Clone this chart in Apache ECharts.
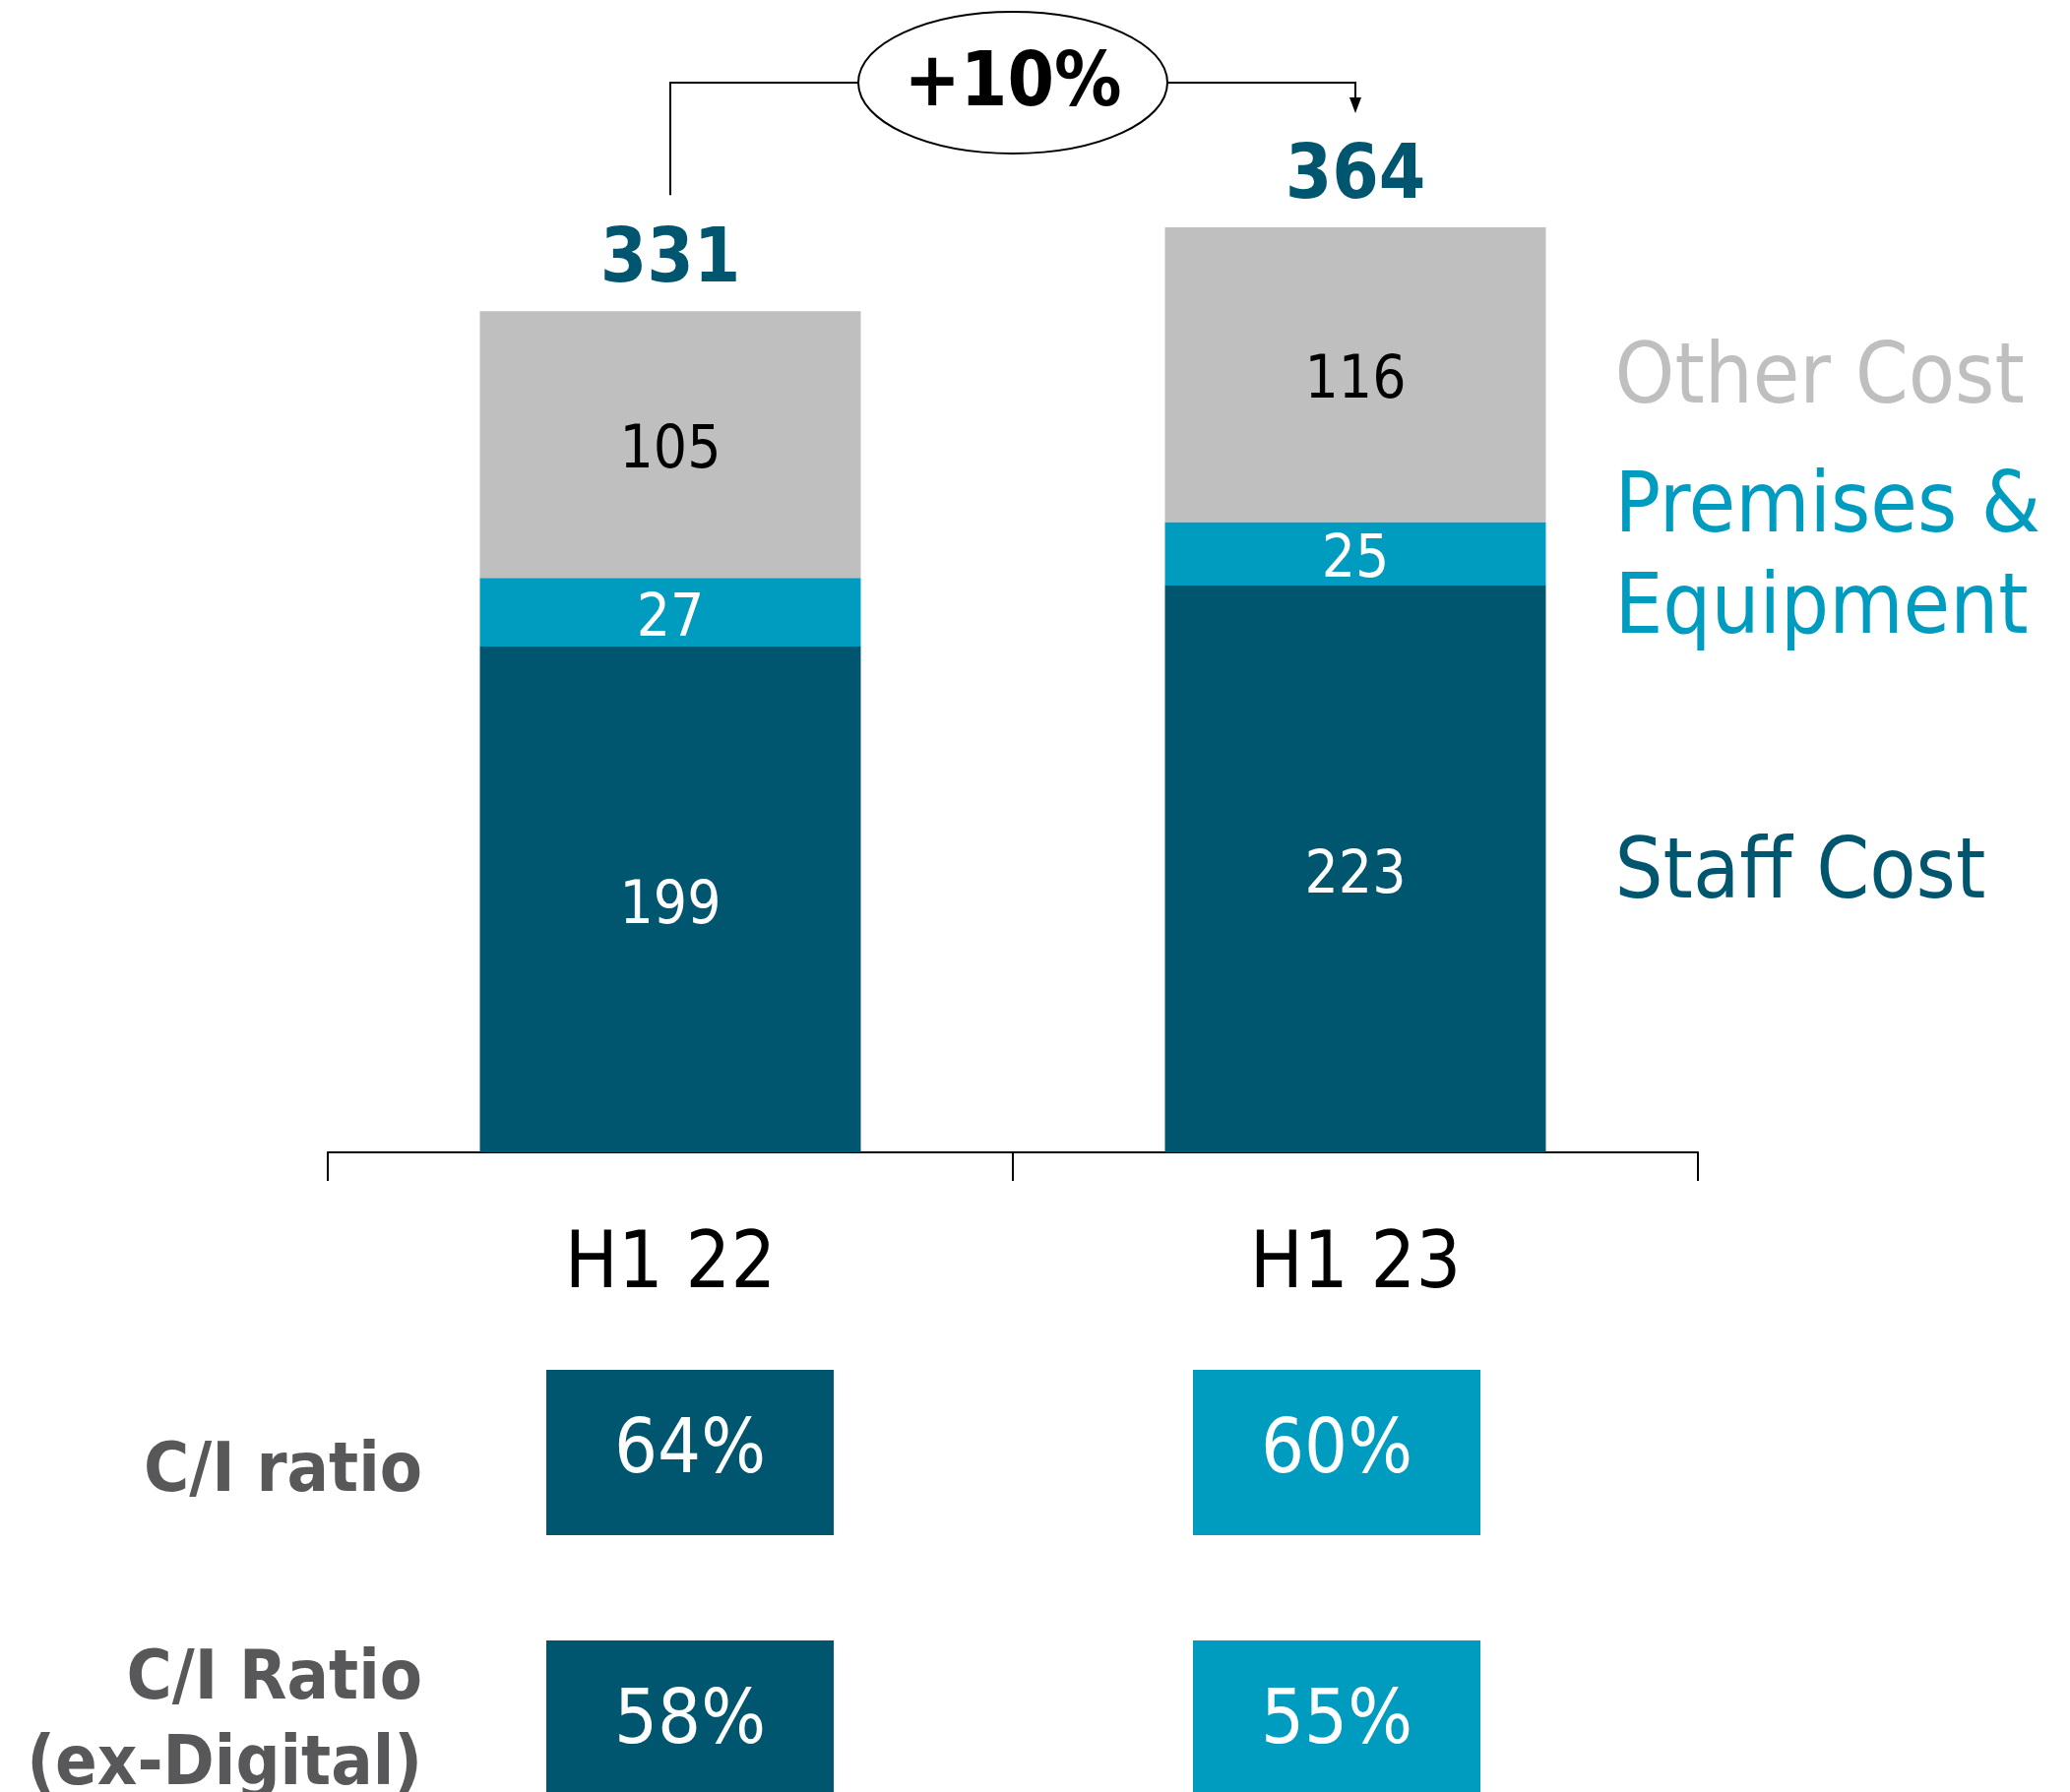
<!DOCTYPE html>
<html>
<head>
<meta charset="utf-8">
<script src="https://cdn.jsdelivr.net/npm/echarts@6/dist/echarts.min.js"></script>
<style>
  html, body { margin: 0; padding: 0; background: #fff; }
  #main { width: 2103px; height: 1821px; }
</style>
</head>
<body>
<div id="main"></div>
<script>
// data
const periods = ['H1 22', 'H1 23'];
const staffCost = [199, 223];
const premises = [27, 25];
const otherCost = [105, 116];
const totals = [331, 364];
const growthLabel = '+10%';
const ratioRows = ['C/I ratio', 'C/I Ratio\n(ex-Digital)'];
const ciRatio = [64, 60];
const ciRatioExDigital = [58, 55];

const FONT = '"DejaVu Sans Condensed", "DejaVu Sans", sans-serif';
const DARK = '#00566e';
const TEAL = '#009cc0';
const GREY = '#bfbfbf';

const chart = echarts.init(document.getElementById('main'));

const tableData = [];
[ciRatio, ciRatioExDigital].forEach(function (row, r) {
  row.forEach(function (v, c) { tableData.push([c, r, v]); });
});

const segLabel = function (color) {
  return { show: true, position: 'inside', offset: [0, 8], color: color, fontFamily: FONT, fontSize: 60 };
};

const option = {
  animation: false,
  backgroundColor: '#fff',
  grid: [
    { left: 333, right: 378, top: 138, bottom: 650, outerBoundsMode: 'none' },
    { left: 701, right: 745, top: 1476, bottom: 70, outerBoundsMode: 'none' }
  ],
  xAxis: [
    {
      type: 'category', data: periods, gridIndex: 0,
      axisLine: { lineStyle: { color: '#000', width: 2 } },
      axisTick: { show: true, length: 29, lineStyle: { color: '#000', width: 2 } },
      axisLabel: { color: '#000', fontFamily: FONT, fontSize: 80, margin: 76 }
    },
    {
      type: 'category', data: periods, gridIndex: 1, boundaryGap: false, show: false
    }
  ],
  yAxis: [
    { type: 'value', gridIndex: 0, min: 0, max: 400, show: false },
    {
      type: 'category', data: ratioRows, gridIndex: 1, inverse: true, boundaryGap: false,
      axisLine: { show: false }, axisTick: { show: false }, splitLine: { show: false },
      axisLabel: {
        margin: 272, color: '#58585a', fontFamily: FONT, fontWeight: 'bold', fontSize: 70,
        lineHeight: 87, align: 'right',
        formatter: function (v, i) { return i === 0 ? '{a|' + v + '}' : v; },
        rich: { a: { padding: [42, 0, 0, 0], color: '#58585a', fontFamily: FONT, fontWeight: 'bold', fontSize: 70 } }
      }
    }
  ],
  series: [
    { name: 'Staff Cost', type: 'bar', stack: 'cost', barWidth: '55.6%', data: staffCost,
      itemStyle: { color: DARK }, label: segLabel('#fff') },
    { name: 'Premises & Equipment', type: 'bar', stack: 'cost', data: premises,
      itemStyle: { color: TEAL }, label: segLabel('#fff') },
    { name: 'Other Cost', type: 'bar', stack: 'cost', data: otherCost,
      itemStyle: { color: GREY }, label: segLabel('#000') },
    { name: 'Total', type: 'bar', stack: 'cost', data: [0, 0],
      label: {
        show: true, position: 'top', distance: 12, color: DARK, fontFamily: FONT,
        fontWeight: 'bold', fontSize: 76,
        formatter: function (p) { return totals[p.dataIndex]; }
      } },
    {
      type: 'scatter', xAxisIndex: 1, yAxisIndex: 1, symbol: 'rect', symbolSize: [292, 168],
      data: tableData,
      itemStyle: { opacity: 1, color: function (p) { return p.value[0] === 0 ? DARK : TEAL; } },
      label: {
        show: true, position: 'inside', color: '#fff', fontFamily: FONT, fontSize: 77,
        formatter: function (p) { return p.value[2] + '%'; }
      }
    }
  ]
};

chart.setOption(option);

// annotations positioned from the chart's own scales
const px = function (cat) { return chart.convertToPixel({ xAxisIndex: 0 }, cat); };
const py = function (v) { return chart.convertToPixel({ yAxisIndex: 0 }, v); };
const x1 = px(periods[0]);
const x2 = px(periods[1]);
const bandW = x2 - x1;
const barHalf = bandW * 0.556 / 2;
const lineY = py(totals[1]) - 147;
const cx = (x1 + x2) / 2;
const rx = 157, ry = 72;

const legendItems = [
  { text: 'Other Cost', color: GREY, y: py(staffCost[1] + premises[1] + otherCost[1] / 2) + 6 },
  { text: 'Premises &\nEquipment', color: TEAL, y: py(staffCost[1] + premises[1] / 2) + 6 },
  { text: 'Staff Cost', color: DARK, y: py(staffCost[1] / 2) + 7 }
];

const graphics = [
  { type: 'polyline', shape: { points: [[x1, py(totals[0]) - 118], [x1, lineY], [cx - rx, lineY]] },
    style: { stroke: '#000', lineWidth: 2, fill: null } },
  { type: 'polyline', shape: { points: [[cx + rx, lineY], [x2, lineY], [x2, py(totals[1]) - 130]] },
    style: { stroke: '#000', lineWidth: 2, fill: null } },
  { type: 'polygon', shape: { points: [[x2 - 6, py(totals[1]) - 132], [x2 + 6, py(totals[1]) - 132], [x2, py(totals[1]) - 116]] },
    style: { fill: '#000' } },
  { type: 'ellipse', shape: { cx: cx, cy: lineY, rx: rx, ry: ry },
    style: { fill: '#fff', stroke: '#000', lineWidth: 2 } },
  { type: 'text', x: cx, y: lineY + 3,
    style: { text: growthLabel, fill: '#000', fontFamily: FONT, fontWeight: 'bold', fontSize: 76,
      align: 'center', verticalAlign: 'middle' } }
];
legendItems.forEach(function (it) {
  graphics.push({ type: 'text', x: x2 + barHalf + 70, y: it.y,
    style: { text: it.text, fill: it.color, fontFamily: FONT, fontSize: 86, lineHeight: 103,
      align: 'left', verticalAlign: 'middle' } });
});

chart.setOption({ graphic: graphics });
</script>
</body>
</html>
